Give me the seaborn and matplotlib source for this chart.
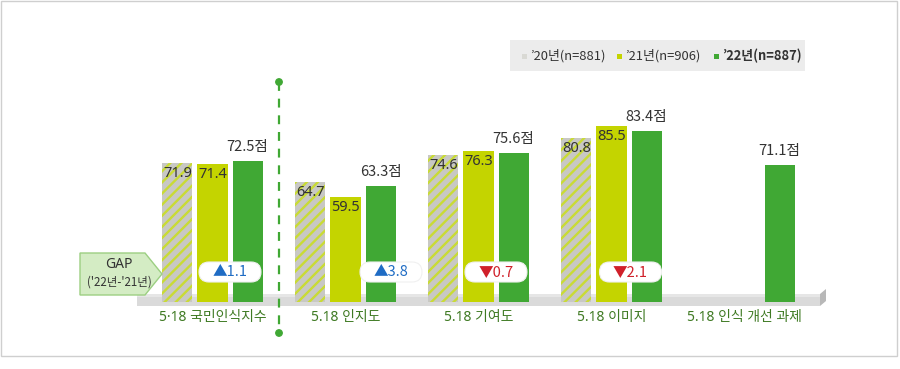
import numpy as np
import pandas as pd
import matplotlib
matplotlib.use("Agg")
import matplotlib.pyplot as plt
import seaborn as sns
from matplotlib.patches import Polygon, Rectangle, FancyBboxPatch, Circle
from matplotlib.lines import Line2D

# ---------------- data ----------------
categories = ["5·18 국민인식지수", "5.18 인지도", "5.18 기여도", "5.18 이미지", "5.18 인식 개선 과제"]
years = ["’20년(n=881)", "’21년(n=906)", "’22년(n=887)"]
v20 = [71.9, 64.7, 74.6, 80.8, np.nan]
v21 = [71.4, 59.5, 76.3, 85.5, np.nan]
v22 = [72.5, 63.3, 75.6, 83.4, 71.1]
gap_labels = ["▲1.1", "▲3.8", "▼0.7", "▼2.1"]
gap_title = "GAP"
gap_sub = "('22년-'21년)"

# ---------------- style ----------------
GRAY = "#c8c8c4"
STRIPE = "#c9db35"
YELLOW = "#c4d400"
GREEN = "#40a834"
LABEL_GREEN = "#3f7a23"
TXT = "#333333"

sns.set_theme(style="white")
plt.rcParams["font.family"] = ["Noto Sans CJK KR", "DejaVu Sans"]
plt.rcParams["hatch.linewidth"] = 1.7
LATIN_FIRST = ["Noto Sans", "Noto Sans CJK KR"]

rows = []
for i, c in enumerate(categories):
    for y, vals in zip(years, [v20, v21, v22]):
        rows.append({"category": c, "year": y, "value": vals[i]})
df = pd.DataFrame(rows).dropna()

W, H = 900, 369
fig = plt.figure(figsize=(W / 100, H / 100), dpi=100)

# background overlay in pixel coordinates
bg = fig.add_axes([0, 0, 1, 1])
bg.set_xlim(0, W)
bg.set_ylim(H, 0)
bg.axis("off")
bg.set_zorder(0)
bg.add_patch(Rectangle((1, 1), 896, 355, fill=False, ec="#cfcfcf", lw=1))
# platform
bg.add_patch(Rectangle((137, 294), 683, 12, fc="#dadada", ec="none"))
bg.add_patch(Rectangle((137, 294), 683, 3, fc="#e6e6e6", ec="none"))
bg.add_patch(Polygon([(820, 294), (826, 289), (826, 301), (820, 306)], closed=True,
                     fc="#b8b8b8", ec="none"))
# legend box
bg.add_patch(Rectangle((510, 40), 295, 31, fc="#ececec", ec="none"))

# bar axes
ax = fig.add_axes([0, (H - 302) / H, 1, 302 / H])
ax.set_zorder(1)
ax.patch.set_alpha(0)
sns.barplot(data=df, x="category", y="value", hue="year", order=categories,
            hue_order=years, palette=[GRAY, YELLOW, GREEN], width=0.79, gap=0.143,
            saturation=1, linewidth=0, legend=False, ax=ax, errorbar=None)
ax.set_xlim(-212.5 / 133, 687.5 / 133)
ax.set_ylim(20.88, 131.5)
ax.set_xlabel("")
ax.set_ylabel("")
ax.set_yticks([])
for s in ax.spines.values():
    s.set_visible(False)
ax.tick_params(axis="x", length=0, pad=6, labelsize=10, labelcolor=LABEL_GREEN)
for t in ax.get_xticklabels():
    t.set_family(LATIN_FIRST)

for bar in ax.containers[0]:
    bar.set_hatch("///")
    bar.set_edgecolor(STRIPE)
    bar.set_linewidth(0)

for ci, cont in enumerate(ax.containers):
    for bar in cont:
        h = bar.get_height()
        if np.isnan(h):
            continue
        cx = bar.get_x() + bar.get_width() / 2
        if ci < 2:
            ax.annotate(f"{h:.1f}", (cx, h), xytext=(0, -3), textcoords="offset pixels",
                        ha="center", va="top", fontsize=10.5, color=TXT,
                        family=LATIN_FIRST)
        else:
            ax.annotate(f"{h:.1f}점", (cx, h), xytext=(0, 7), textcoords="offset pixels",
                        ha="center", va="bottom", fontsize=10.5, color=TXT,
                        fontweight="medium")

# top overlay
top = fig.add_axes([0, 0, 1, 1])
top.set_xlim(0, W)
top.set_ylim(H, 0)
top.axis("off")
top.set_zorder(2)
top.patch.set_alpha(0)

# dashed separator
top.add_line(Line2D([279, 279], [82, 333], color=GREEN, lw=1.6, ls=(0, (4, 3.5))))
top.add_patch(Circle((279, 82), 3.2, color=GREEN))
top.add_patch(Circle((279, 333), 3.2, color=GREEN))

# GAP tag
top.add_patch(Polygon([(80, 253), (145, 253), (162, 274), (145, 295), (80, 295)], closed=True,
                      fc="#d4ecc4", ec="#9ccf82", lw=1))
top.text(119, 265, gap_title, ha="center", va="center", fontsize=10, color=TXT,
         family=LATIN_FIRST)
top.text(119, 282, gap_sub, ha="center", va="center", fontsize=8.3, color=TXT)

# gap badges
badge_offsets = [17.5, 45.5, 17.5, 19]
for i, (lab, off) in enumerate(zip(gap_labels, badge_offsets)):
    cx = 212.5 + 133 * i + off
    top.add_patch(FancyBboxPatch((cx - 31, 262), 62, 20,
                                 boxstyle="round,pad=0,rounding_size=10",
                                 fc="white", ec="#f0f0f0", lw=0.8))
    col = "#1f6cc4" if lab.startswith("▲") else "#d0202a"
    top.text(cx, 272, lab, ha="center", va="center", fontsize=10.5, color=col)

# legend
leg_items = [(522, "#d9d9d4", years[0], "normal"),
             (617, YELLOW, years[1], "normal"),
             (714, GREEN, years[2], "bold")]
for x, col, lab, wt in leg_items:
    top.add_patch(Rectangle((x, 54), 5, 5, fc=col, ec="none"))
    top.text(x + 8, 56, lab, ha="left", va="center", fontsize=9.3, color=TXT, fontweight=wt)

fig.savefig("out.png", dpi=100)
